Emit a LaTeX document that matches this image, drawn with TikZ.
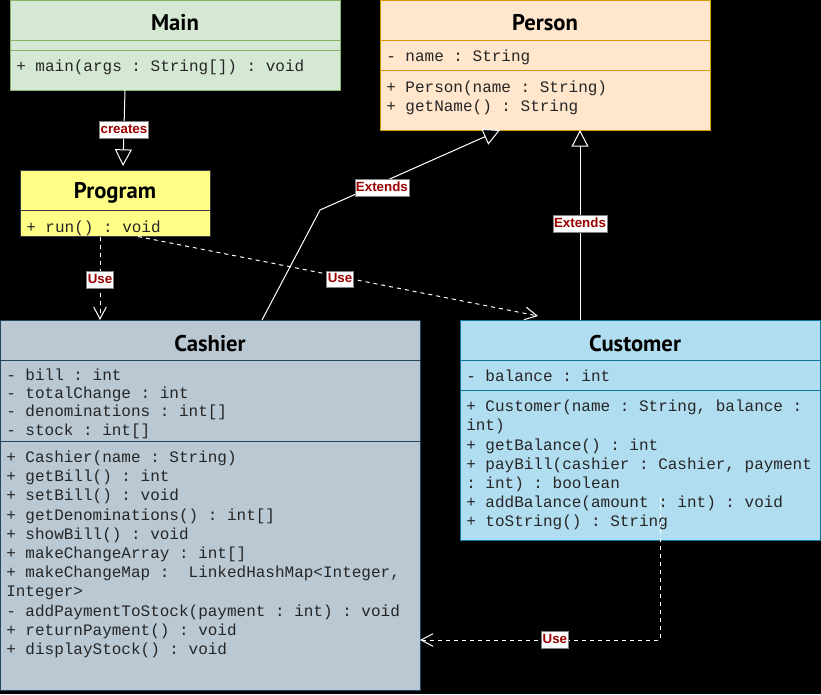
\documentclass[tikz,border=0pt]{standalone}
\usepackage{fontspec}
\setmonofont{Liberation Mono}
\newfontfamily\titlefont{PT Sans}
\newfontfamily\lblfont{Liberation Sans}
\usetikzlibrary{arrows.meta,calc}
\definecolor{mainfill}{HTML}{D5E8D4}\definecolor{mainline}{HTML}{82B366}
\definecolor{persfill}{HTML}{FFE6CC}\definecolor{persline}{HTML}{D79B00}
\definecolor{progfill}{HTML}{FFFF88}\definecolor{progline}{HTML}{36393D}
\definecolor{cashfill}{HTML}{BAC8D3}\definecolor{cashline}{HTML}{23445D}
\definecolor{custfill}{HTML}{B1DDF0}\definecolor{custline}{HTML}{10739E}
\definecolor{lblred}{HTML}{990000}
\begin{document}
\begin{tikzpicture}[x=0.75pt,y=-0.75pt,
  box/.style={draw, line width=0.75pt, inner sep=0pt, outer sep=0pt, anchor=north west},
  sz/.style 2 args={minimum width=#1*0.75pt, minimum height=#2*0.75pt},
  sep/.style={line width=0.75pt},
  ttl/.style={font=\titlefont\bfseries\fontsize{17}{20}\selectfont, inner sep=0pt, anchor=base},
  mono/.style={font=\ttfamily\fontsize{12}{14.4}\selectfont, anchor=base west, inner sep=0pt, text=black!85},
  lbl/.style={solid, fill=white, draw=gray, line width=0.5pt, text=lblred,
    font=\lblfont\bfseries\fontsize{10}{12}\selectfont, inner xsep=0.8pt, inner ysep=1.6pt,
    text height=7.5pt, text depth=2pt},
  rel/.style={draw=white, line width=0.75pt},
  gen/.style={rel, -{Triangle[length=12.5pt,width=12.75pt,fill=black]}},
  usel/.style={rel, dash pattern=on 3pt off 3pt, -{Straight Barb[length=9pt,width=9.5pt]}}
]
\useasboundingbox (0,0) rectangle (821,694);
\fill[black] (0,0) rectangle (821,694);

% Main
\node[box, sz={330}{90}, fill=mainfill, draw=mainline] (main) at (10,0) {};
\draw[sep, mainline] ($(main.north west)+(0,40.7)$) -- ($(main.north east)+(0,40.7)$);
\draw[sep, mainline] ($(main.north west)+(0,50.7)$) -- ($(main.north east)+(0,50.7)$);
\node[ttl] (mainT) at (175,30.5) {Main};
\node[mono] (mainM1) at (16,71) {+ main(args : String[]) : void};

% Person
\node[box, sz={330}{130}, fill=persfill, draw=persline] (pers) at (380,0) {};
\draw[sep, persline] ($(pers.north west)+(0,40.7)$) -- ($(pers.north east)+(0,40.7)$);
\draw[sep, persline] ($(pers.north west)+(0,70.7)$) -- ($(pers.north east)+(0,70.7)$);
\node[ttl] (persT) at (545,30.5) {Person};
\node[mono] (persA1) at (386,61.5) {- name : String};
\node[mono] (persM1) at (386,92) {+ Person(name : String)};
\node[mono] (persM2) at (386,111.2) {+ getName() : String};

% Program
\node[box, sz={190}{66}, fill=progfill, draw=progline] (prog) at (20,170.5) {};
\draw[sep, progline] ($(prog.north west)+(0,40.2)$) -- ($(prog.north east)+(0,40.2)$);
\node[ttl] (progT) at (115,198) {Program};
\node[mono] (progM1) at (26,232) {+ run() : void};

% Cashier
\node[box, sz={420}{370}, fill=cashfill, draw=cashline] (cash) at (0,320) {};
\draw[sep, cashline] ($(cash.north west)+(0,40)$) -- ($(cash.north east)+(0,40)$);
\draw[sep, cashline] ($(cash.north west)+(0,121)$) -- ($(cash.north east)+(0,121)$);
\node[ttl] (cashT) at (210,351) {Cashier};
\foreach \t [count=\i] in {{- bill : int},{- totalChange : int},{- denominations : int[]},{- stock : int[]}}
  \node[mono] (cashA\i) at (6,{380+18.33*(\i-1)}) {\t};
\foreach \t [count=\i] in {{+ Cashier(name : String)},{+ getBill() : int},{+ setBill() : void},
  {+ getDenominations() : int[]},{+ showBill() : void},{+ makeChangeArray : int[]},
  {+ makeChangeMap :~ LinkedHashMap<Integer,},{Integer>},{- addPaymentToStock(payment : int) : void},
  {+ returnPayment() : void},{+ displayStock() : void}}
  \node[mono] (cashM\i) at (6,{462.5+19.2*(\i-1)}) {\t};

% Customer
\node[box, sz={360}{220}, fill=custfill, draw=custline] (cust) at (460,320) {};
\draw[sep, custline] ($(cust.north west)+(0,40.5)$) -- ($(cust.north east)+(0,40.5)$);
\draw[sep, custline] ($(cust.north west)+(0,70)$) -- ($(cust.north east)+(0,70)$);
\node[ttl] (custT) at (635,351.5) {Customer};
\node[mono] (custA1) at (466,381) {- balance : int};
\foreach \t [count=\i] in {{+ Customer(name : String, balance :},{int)},{+ getBalance() : int},
  {+ payBill(cashier : Cashier, payment},{: int) : boolean},{+ addBalance(amount : int) : void},
  {+ toString() : String}}
  \node[mono] (custM\i) at (466,{411.7+19.17*(\i-1)}) {\t};

% Connectors
\draw[gen] ($(main.south west)+(115,0)$) -- node[lbl,pos=0.52] (lcreates) {creates}
  ($(prog.north west)+(103,-4.5)$);
\draw[gen] ($(cash.north west)+(262,0)$) -- ($(cash.north west)+(320,-110)$)
  -- node[lbl,pos=0.344,yshift=-3.75pt] (lext1) {Extends} ($(pers.south west)+(120,0)$);
\draw[gen] ($(cust.north west)+(120,0)$) -- node[lbl,pos=0.507] (lext2) {Extends}
  ($(pers.south west)+(200,0)$);
\draw[usel] ($(prog.south west)+(80,0)$) -- node[lbl,pos=0.52] (luse1) {Use}
  ($(cash.north west)+(100,0)$);
\draw[usel] ($(prog.south west)+(118,0)$) -- node[lbl,pos=0.505,yshift=-2pt] (luse2) {Use}
  ($(cust.north west)+(78,-4)$);
\coordinate (custsrc) at ($(cust.north west)+(200,178)$);
\draw[usel] (custsrc) |- node[lbl,pos=0.719] (luse3) {Use} ($(cash.north east)+(0,320)$);
\end{tikzpicture}
\end{document}
